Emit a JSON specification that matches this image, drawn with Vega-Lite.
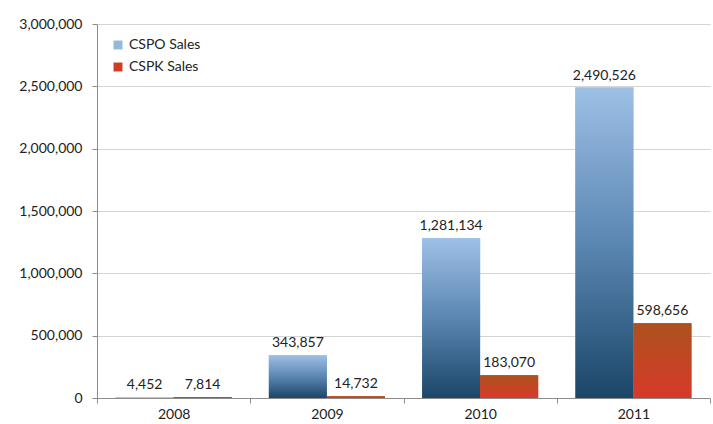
{
  "$schema": "https://vega.github.io/schema/vega-lite/v6.json",
  "width": 613,
  "height": 374,
  "autosize": {"type": "none"},
  "padding": {"left": 97, "top": 24, "right": 3, "bottom": 26},
  "background": "white",
  "config": {
    "font": "Lato",
    "view": {"stroke": null},
    "axis": {"labelFont": "Lato", "labelFontSize": 14, "labelColor": "#222", "domainColor": "#8c8c8c", "tickColor": "#8c8c8c", "gridColor": "#d4d4d4"},
    "legend": {"labelFont": "Lato", "labelFontSize": 14, "labelColor": "#222"}
  },
  "data": {
    "values": [
      {"year": "2008", "series": "CSPO Sales", "value": 4452},
      {"year": "2008", "series": "CSPK Sales", "value": 7814},
      {"year": "2009", "series": "CSPO Sales", "value": 343857},
      {"year": "2009", "series": "CSPK Sales", "value": 14732},
      {"year": "2010", "series": "CSPO Sales", "value": 1281134},
      {"year": "2010", "series": "CSPK Sales", "value": 183070},
      {"year": "2011", "series": "CSPO Sales", "value": 2490526},
      {"year": "2011", "series": "CSPK Sales", "value": 598656}
    ]
  },
  "encoding": {
    "x": {
      "field": "year", "type": "nominal",
      "scale": {"paddingInner": 0, "paddingOuter": 0},
      "axis": {"title": null, "labelAngle": 0, "tickBand": "extent", "tickSize": 5, "labelPadding": 4, "grid": false}
    },
    "xOffset": {
      "field": "series", "type": "nominal",
      "scale": {"domain": ["CSPO Sales", "CSPK Sales"], "paddingInner": 0, "paddingOuter": 0.32}
    },
    "y": {
      "field": "value", "type": "quantitative",
      "scale": {"domain": [0, 3000000], "nice": false},
      "axis": {"title": null, "format": ",d", "values": [0, 500000, 1000000, 1500000, 2000000, 2500000, 3000000], "tickSize": 5, "labelPadding": 10, "grid": true}
    }
  },
  "layer": [
    {
      "mark": {"type": "bar", "strokeWidth": 0},
      "encoding": {
        "color": {
          "field": "series", "type": "nominal",
          "scale": {"domain": ["CSPO Sales", "CSPK Sales"], "range": ["#93b9dd", "#cf3d22"]},
          "legend": {"title": null, "orient": "top-left", "offset": 14, "symbolType": "square", "symbolSize": 80, "rowPadding": 8, "labelOffset": 4}
        }
      }
    },
    {
      "transform": [{"filter": "datum.series === 'CSPO Sales'"}],
      "mark": {
        "type": "bar", "strokeWidth": 0,
        "fill": {"gradient": "linear", "x1": 0, "y1": 0, "x2": 0, "y2": 1,
          "stops": [{"offset": 0, "color": "#9ec0e6"}, {"offset": 0.5, "color": "#5a86b2"}, {"offset": 1, "color": "#1b4668"}]}
      }
    },
    {
      "transform": [{"filter": "datum.series === 'CSPK Sales'"}],
      "mark": {
        "type": "bar", "strokeWidth": 0,
        "fill": {"gradient": "linear", "x1": 0, "y1": 0, "x2": 0, "y2": 1,
          "stops": [{"offset": 0, "color": "#ac521d"}, {"offset": 1, "color": "#d8392a"}]}
      }
    },
    {
      "mark": {"type": "text", "baseline": "bottom", "dy": -5, "fontSize": 14, "color": "#222", "font": "Lato"},
      "encoding": {"text": {"field": "value", "type": "quantitative", "format": ",d"}}
    }
  ]
}
